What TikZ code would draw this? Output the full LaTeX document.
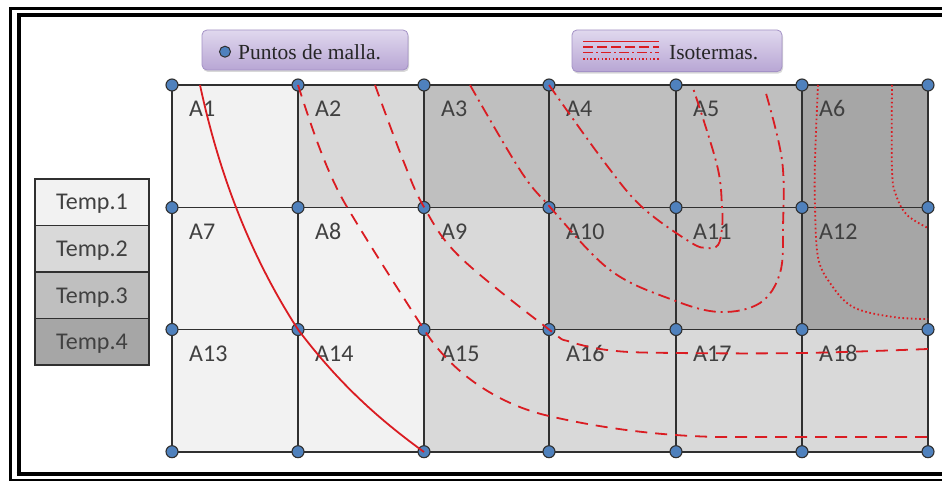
\documentclass[tikz,border=0pt]{standalone}
\usepackage{fontspec}
\setmainfont{Liberation Serif}
\newfontfamily\calib{Carlito}
\usetikzlibrary{shadows}
\definecolor{tA}{RGB}{242,242,242}
\definecolor{tB}{RGB}{217,217,217}
\definecolor{tC}{RGB}{191,191,191}
\definecolor{tD}{RGB}{166,166,166}
\definecolor{gridc}{RGB}{48,48,48}
\definecolor{dotblue}{RGB}{79,129,189}
\definecolor{isored}{RGB}{218,28,34}
\definecolor{txtgray}{RGB}{64,64,64}
\definecolor{lavtop}{RGB}{224,216,238}
\definecolor{lavbot}{RGB}{184,166,212}
\definecolor{lavedge}{RGB}{164,146,198}
\begin{document}
\begin{tikzpicture}[x=1pt,y=-1pt,
  gridline/.style={draw=gridc,line width=1.8pt},
  gdot/.style={circle,fill=dotblue,draw=gridc,line width=1.1pt,inner sep=0pt,minimum size=12pt},
  celltxt/.style={anchor=base west,inner sep=0pt,text=txtgray,font=\calib\fontsize{24}{24}\selectfont},
  legbox/.style={draw=gridc,line width=1.3pt,minimum width=114pt,minimum height=46.5pt,inner sep=0pt,
     text height=15.5pt,text depth=0pt,text=txtgray,font=\calib\fontsize{24}{24}\selectfont},
  labbox/.style={rounded corners=5pt,top color=lavtop,bottom color=lavbot,draw=lavedge,line width=0.8pt,
     inner sep=0pt,drop shadow={shadow xshift=1pt,shadow yshift=-2pt,opacity=0.3}},
  labtxt/.style={anchor=base west,inner sep=0pt,font=\fontsize{21.5}{22}\selectfont,text=black!85},
  isosolid/.style={draw=isored,line width=1.8pt},
  isodash/.style={draw=isored,line width=1.8pt,dash pattern=on 12pt off 8pt},
  isodashdot/.style={draw=isored,line width=1.8pt,dash pattern=on 12pt off 5pt on 2pt off 5pt},
  isodot/.style={draw=isored,line width=1.8pt,dash pattern=on 1.6pt off 2.6pt},
]
\useasboundingbox (0,0) rectangle (942,481);
\clip (0,0) rectangle (942,481);
\fill[white] (0,0) rectangle (942,481);
% frames
\draw[line width=3pt] (10.5,479.8) -- (10.5,8.3) -- (960,8.3);
\draw[line width=2pt] (9,479.8) -- (960,479.8);
\draw[line width=4pt] (18.5,474.2) -- (18.5,15.3) -- (960,15.3);
\draw[line width=4.5pt] (16.5,474.2) -- (960,474.2);
% grid coordinates
\foreach \x [count=\i] in {172,298,424,549,676,802,928}{
  \foreach \y [count=\j] in {85,207.5,329.5,451.7}{
    \coordinate (g\i-\j) at (\x,\y);
  }
}
% cell fills
\foreach \i/\j/\col in {1/1/tA,2/1/tB,3/1/tC,4/1/tC,5/1/tC,6/1/tD,
                        1/2/tA,2/2/tA,3/2/tB,4/2/tC,5/2/tC,6/2/tD,
                        1/3/tA,2/3/tA,3/3/tB,4/3/tB,5/3/tB,6/3/tB}{
  \pgfmathtruncatemacro\ii{\i+1}
  \pgfmathtruncatemacro\jj{\j+1}
  \fill[\col] (g\i-\j) rectangle (g\ii-\jj);
}
% grid lines
\foreach \j in {1,2,3,4}{\draw[gridline] (g1-\j) -- (g7-\j);}
\foreach \i in {1,...,7}{\draw[gridline] (g\i-1) -- (g\i-4);}
% mesh points
\foreach \i in {1,...,7}{
  \foreach \j in {1,2,3,4}{
    \node[gdot] (d\i-\j) at (g\i-\j) {};
  }
}
% cell labels
\foreach \i/\j/\n in {1/1/1,2/1/2,3/1/3,4/1/4,5/1/5,6/1/6,
                      1/2/7,2/2/8,3/2/9,4/2/10,5/2/11,6/2/12,
                      1/3/13,2/3/14,3/3/15,4/3/16,5/3/17,6/3/18}{
  \node[celltxt] (a\n) at ([shift={(17,32)}]g\i-\j) {A\n};
}
% legend
\node[legbox,fill=tA] (l1) at (92,202.25) {Temp.1};
\node[legbox,fill=tB] (l2) at (92,248.75) {Temp.2};
\node[legbox,fill=tC] (l3) at (92,295.25) {Temp.3};
\node[legbox,fill=tD] (l4) at (92,341.75) {Temp.4};
% isotherms
\draw[isosolid] (200,85) .. controls (214,150) and (240,240) .. (298,329.5)
  .. controls (340,385) and (380,420) .. (424,452);
\draw[isodash] (298,85) .. controls (314,135) and (328,175) .. (347,207)
  .. controls (372,249) and (405,300) .. (424,329.5)
  .. controls (452,374) and (500,405) .. (549,416)
  .. controls (600,428) and (660,436) .. (720,437)
  -- (928,437);
\draw[isodash] plot[smooth,tension=0.6] coordinates
  {(375,85) (403,160) (424,207) (460,257) (549,329.5) (570,341.7) (613,350.7) (676,353) (802,353) (928,349)};
\draw[isodashdot] plot[smooth,tension=0.6] coordinates
  {(470,85) (520,170) (550,207) (610,270) (673,300) (720,312) (760,303) (780,273) (783,227) (782,160) (765,90)};
\draw[isodashdot] plot[smooth,tension=0.6] coordinates
  {(549,85) (605,163) (642,207) (690,242) (707,248) (718,245) (722,228) (722,207) (717,165) (693,88)};
\draw[isodot] plot[smooth,tension=0.6] coordinates
  {(818,85) (815,160) (815,207) (818,257) (830,283) (853,307) (893,317) (928,319)};
\draw[isodot] plot[smooth,tension=0.6] coordinates
  {(892,85) (892,170) (896,195) (907,215) (928,228)};
% top labels
\node[labbox,minimum width=206pt,minimum height=40pt] (lb1) at (305,50) {};
\node[circle,fill=dotblue,draw=gridc,line width=1pt,inner sep=0pt,minimum size=11pt] (lbdot) at (225,51.7) {};
\node[labtxt] (lbt1) at (238,59.3) {Puntos de malla.};
\node[labbox,minimum width=210pt,minimum height=41.7pt] (lb2) at (677,50.8) {};
\node[labtxt] (lbt2) at (669,59.3) {Isotermas.};
\draw[isosolid,line width=1.6pt] (583,41.7) -- (659,41.7);
\draw[isored,line width=1.6pt,dash pattern=on 10pt off 4pt] (583,46.9) -- (659,46.9);
\draw[isored,line width=1.6pt,dash pattern=on 10pt off 3pt on 2pt off 3pt] (583,52.5) -- (659,52.5);
\draw[isored,line width=1.6pt,dash pattern=on 1.5pt off 2.2pt] (583,58.8) -- (659,58.8);
\end{tikzpicture}
\end{document}
